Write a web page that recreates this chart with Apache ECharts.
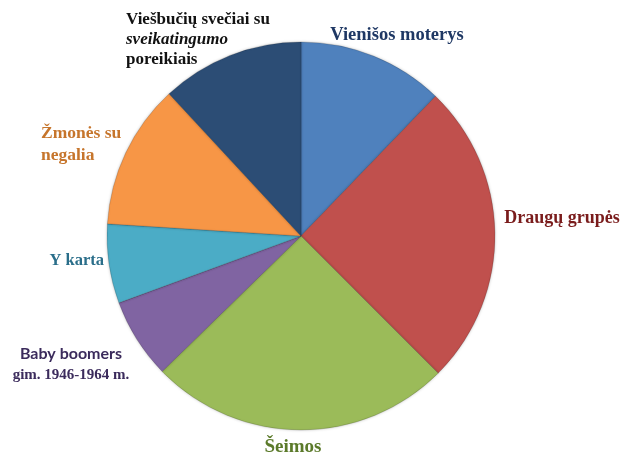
<!DOCTYPE html>
<html><head><meta charset="utf-8">
<script src="https://cdn.jsdelivr.net/npm/echarts@6/dist/echarts.min.js"></script>
<style>html,body{margin:0;padding:0;background:#fff}#c{width:623px;height:457px}</style>
</head><body><div id="c"></div>
<script>
var categories = ['Vienišos moterys','Draugų grupės','Šeimos','Baby boomers','Y karta','Žmonės su negalia','Viešbučių svečiai su sveikatingumo poreikiais'];
var values = [12.2, 25.3, 25.2, 6.7, 6.6, 12.1, 11.9];
var colors = ['#4f81bd','#c0504d','#9bbb59','#8064a2','#4bacc6','#f79646','#2c4d75'];
var labelTexts = [
  '{a|Vienišos moterys}',
  '{a|Draugų grupės}',
  '{a|Šeimos}',
  '{s|Baby boomers}\n{b|gim. 1946-1964 m.}',
  '{a|Y karta}',
  '{a|Žmonės su}\n{a|negalia}',
  '{a|Viešbučių svečiai su}\n{i|sveikatingumo}\n{a|poreikiais}'
];
var labelColors = ['#1f3864','#7a1c1c','#5b7a2a','#3b2b5c','#2a6e8a','#c6752c','#111111'];
var labelSizes = [18.5, 18, 19, 16, 16.5, 17.5, 17];
var labelPos = [[397,35,'center'],[562,218,'center'],[293,447,'center'],[71,364,'center'],[104,261,'right'],[41,144,'left'],[126,40,'left']];

var chart = echarts.init(document.getElementById('c'));
chart.setOption({
  animation:false,
  series:[{
    type:'pie',
    center:[301,236],
    radius:[0,194],
    startAngle:90,
    clockwise:true,
    avoidLabelOverlap:false,
    itemStyle:{borderColor:'rgba(0,0,0,0.15)',borderWidth:1,shadowBlur:3,shadowColor:'rgba(0,0,0,0.25)'},
    labelLine:{show:false},
    label:{
      show:true,
      position:'outside',
      formatter:function(p){return labelTexts[p.dataIndex];},
      rich:{}
    },
    labelLayout:function(p){
      var q=labelPos[p.dataIndex];
      return {x:q[0],y:q[1],align:q[2],verticalAlign:'middle'};
    },
    data:categories.map(function(c,i){
      var col=labelColors[i];
      var ff='"Liberation Serif", serif';
      var fs=labelSizes[i];
      var lh=i===6?20:22;
      return {name:c,value:values[i],itemStyle:{color:colors[i]},
        label:{rich:{
          a:{fontFamily:ff,fontWeight:'bold',fontSize:fs,color:col,lineHeight:lh},
          i:{fontFamily:ff,fontWeight:'bold',fontStyle:'italic',fontSize:fs,color:col,lineHeight:lh},
          s:{fontFamily:'Lato, sans-serif',fontWeight:'bold',fontSize:fs,color:col,lineHeight:22},
          b:{fontFamily:ff,fontWeight:'bold',fontSize:15,color:col,lineHeight:20}
        }}};
    })
  }]
});
</script></body></html>
